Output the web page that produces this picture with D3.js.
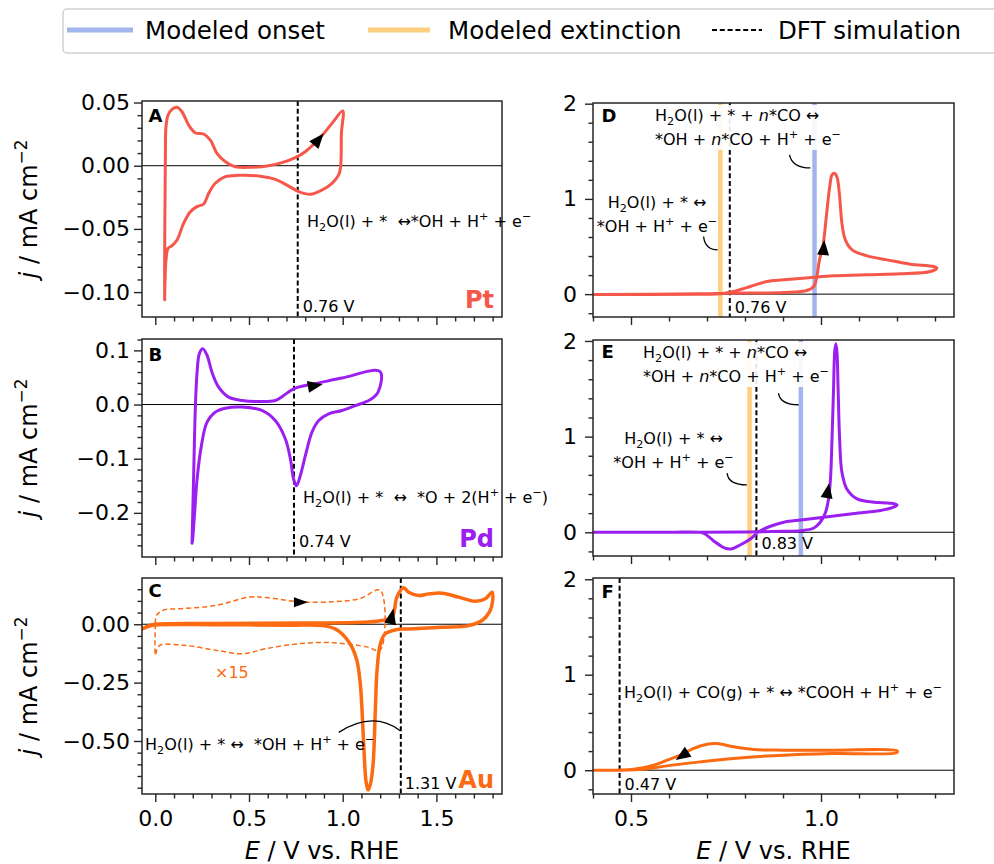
<!DOCTYPE html>
<html><head><meta charset="utf-8">
<script src="https://cdn.jsdelivr.net/npm/d3@7/dist/d3.min.js"></script>
<style>html,body{margin:0;background:#fff}svg{display:block}text{white-space:pre}</style>
</head><body>
<svg id="chart" width="994" height="864" xmlns="http://www.w3.org/2000/svg"></svg>
<script>
// ================= DATA =================
// Panel A: Pt CV (E / V vs RHE, j / mA cm^-2), closed loop
const ptCV_E = [0.050,0.050,0.052,0.054,0.057,0.068,0.089,0.116,0.142,0.178,0.213,0.258,0.294,0.329,0.374,0.427,0.516,0.605,0.676,0.747,0.800,0.872,0.943,1.000,
                0.993,0.989,0.979,0.943,0.890,0.827,0.765,0.712,0.640,0.551,0.445,0.374,0.320,0.285,0.258,0.222,0.187,0.151,0.116,0.089,0.068,0.057,0.052,0.050];
const ptCV_J = [-0.106,-0.0667,-0.027,0.0124,0.0309,0.040,0.0446,0.0462,0.0427,0.0322,0.0261,0.0251,0.0203,0.0098,0.0032,-0.0008,-0.0012,0.000,0.0024,0.0064,0.0111,0.0209,0.0335,0.0433,
                0.0256,-0.0008,-0.0071,-0.0139,-0.0192,-0.0226,-0.0205,-0.0161,-0.0108,-0.0081,-0.0076,-0.0087,-0.0139,-0.0218,-0.0303,-0.0324,-0.0364,-0.0456,-0.0588,-0.0633,-0.0654,-0.0746,-0.0904,-0.106];
// Panel B: Pd CV
const pdCV_E = [0.196,0.205,0.214,0.223,0.235,0.253,0.276,0.302,0.338,0.391,0.463,0.552,0.640,0.685,0.738,0.801,0.872,0.996,1.199,
                1.190,1.146,1.067,0.996,0.925,0.872,0.836,0.801,0.774,0.753,0.738,0.721,0.694,0.640,0.569,0.463,0.374,0.320,0.276,0.246,0.223,0.210,0.199,0.196];
const pdCV_J = [-0.256,-0.125,-0.002,0.060,0.094,0.103,0.091,0.060,0.032,0.0137,0.0075,0.0056,0.0075,0.0167,0.029,0.0352,0.040,0.0489,0.061,
                0.024,0.0087,-0.002,-0.011,-0.0172,-0.0296,-0.051,-0.094,-0.131,-0.150,-0.1376,-0.1006,-0.0635,-0.0296,-0.011,-0.0047,-0.0067,-0.014,-0.0326,-0.0759,-0.1376,-0.199,-0.250,-0.256];
// Panel C: Au CV (solid)
const auCV_E = [-0.07,-0.03,0.0,0.3,0.8,1.1,1.2,1.263,1.289,1.325,1.352,1.405,1.459,1.53,1.619,1.708,1.761,1.797,
                1.800,1.785,1.745,1.672,1.53,1.352,1.281,1.227,1.201,1.183,1.174,1.162,1.148,1.135,1.124,1.112,1.094,1.076,1.05,1.014,0.96,0.89,0.73,0.3,0.0,-0.03,-0.07];
const auCV_J = [-0.02,-0.005,0.0,0.003,0.005,0.008,0.015,0.03,0.116,0.156,0.137,0.123,0.130,0.133,0.116,0.098,0.109,0.137,
                0.100,0.055,0.017,-0.006,-0.013,-0.02,-0.024,-0.041,-0.084,-0.2,-0.37,-0.60,-0.684,-0.71,-0.67,-0.513,-0.256,-0.156,-0.099,-0.056,-0.02,-0.006,-0.004,-0.002,-0.003,-0.008,-0.02];
// Panel C: Au CV magnified x15 (dashed), values as displayed
const auX15_E = [0.0,0.007,0.043,0.15,0.328,0.506,0.594,0.772,0.95,1.093,1.2, 1.2,1.128,0.95,0.772,0.594,0.47,0.328,0.15,0.025,0.007,0.0,0.0];
const auX15_J = [0.003,0.0386,0.06,0.067,0.081,0.117,0.114,0.096,0.096,0.110,0.146, -0.111,-0.097,-0.079,-0.083,-0.104,-0.126,-0.112,-0.090,-0.090,-0.112,-0.133,0.003];
// Panel D: Pt CO stripping
const ptCO_E = [0.4,0.682,0.761,0.902,0.963,0.981,0.989,0.996,1.005,1.014,1.023,1.029,1.035,1.042,1.049,1.055,1.064,1.082,1.121,1.174,1.235,1.297,1.305,
                1.288,1.209,1.121,1.033,0.983,0.902,0.858,0.814,0.77,0.735,0.682,0.4];
const ptCO_J = [-0.005,0.003,0.01,0.017,0.038,0.08,0.185,0.36,0.50,0.815,1.13,1.253,1.27,1.23,1.026,0.746,0.57,0.465,0.402,0.36,0.315,0.29,0.273,
                0.238,0.213,0.204,0.192,0.178,0.15,0.133,0.08,0.028,0.003,0.0,-0.005];
// Panel E: Pd CO stripping
const pdCO_E = [0.4,0.6,0.8,0.9,0.946,0.98,0.998,1.012,1.02,1.025,1.029,1.033,1.036,1.039,1.042,1.045,1.049,1.055,1.068,1.095,1.139,1.182,1.2,
                1.191,1.156,1.077,1.007,0.947,0.902,0.867,0.836,0.814,0.787,0.763,0.744,0.717,0.695,0.682,0.6,0.4];
const pdCO_J = [0.0,0.0,0.003,0.01,0.017,0.042,0.105,0.21,0.35,0.56,0.977,1.50,1.885,1.97,1.885,1.50,0.977,0.628,0.453,0.349,0.314,0.304,0.286,
                0.262,0.227,0.192,0.157,0.129,0.105,0.063,0.006,-0.07,-0.133,-0.175,-0.16,-0.088,-0.018,0.0,0.0,0.0];
// Panel F: Au CO oxidation
const auCO_E = [0.4,0.463,0.533,0.595,0.683,0.77,0.902,1.034,1.2, 1.2,1.034,0.902,0.823,0.77,0.726,0.7,0.665,0.63,0.595,0.56,0.507,0.4];
const auCO_J = [0.0,0.0,0.01,0.0455,0.0875,0.123,0.158,0.175,0.186, 0.203,0.21,0.21,0.217,0.245,0.28,0.273,0.228,0.158,0.105,0.053,0.01,0.0];

// Reference potentials (V vs RHE), panels A..F
const panelLetters = ["A","B","C","D","E","F"];
const dftV = [0.76, 0.74, 1.31, 0.76, 0.83, 0.47];
const dftLabels = ["0.76 V","0.74 V","1.31 V","0.76 V","0.83 V","0.47 V"];
const onsetV = [0.983, 0.947];       // panels D, E
const extinctionV = [0.735, 0.812];  // panels D, E
const metals = ["Pt","Pd","Au"];

// Ticks
const leftXTicks = [0.0, 0.5, 1.0, 1.5];
const rightXTicks = [0.5, 1.0];
const yTicksA = [-0.10, -0.05, 0.00, 0.05];
const yTicksB = [-0.2, -0.1, 0.0, 0.1];
const yTicksC = [-0.50, -0.25, 0.00];
const yTicksRight = [0, 1, 2];
const legendLabels = ["Modeled onset", "Modeled extinction", "DFT simulation"];

// ================= DRAWING =================
const svg = d3.select("#chart");
const FONT = "DejaVu Sans";
const cPt = "#f5574b", cPd = "#9b20f0", cAu = "#fc6a12", cOnset = "#a2b5ee", cExt = "#fdcf7f";
const metalColors = [cPt, cPd, cAu];
const defs = svg.append("defs");

function rich(parent, str, x, y, opt = {}) {
  const size = opt.size || 16;
  const t = parent.append("text").attr("x", x).attr("y", y)
    .attr("font-family", opt.family || FONT).attr("font-size", size)
    .attr("fill", opt.fill || "#000").attr("text-anchor", opt.anchor || "start");
  if (opt.weight) t.attr("font-weight", opt.weight);
  if (opt.transform) t.attr("transform", opt.transform);
  const parts = str.split(/(_\{[^}]*\}|\^\{[^}]*\}|\$[^$]*\$)/).filter(s => s.length);
  let cur = 0;
  parts.forEach(p => {
    let txt = p, shift = 0, fs = size, ital = false;
    if (p.startsWith("_{")) { txt = p.slice(2, -1); shift = 0.22 * size; fs = 0.7 * size; }
    else if (p.startsWith("^{")) { txt = p.slice(2, -1); shift = -0.42 * size; fs = 0.7 * size; }
    else if (p.startsWith("$")) { txt = p.slice(1, -1); ital = true; }
    const ts = t.append("tspan").attr("dy", shift - cur).attr("font-size", fs).text(txt);
    if (ital) ts.attr("font-style", "italic");
    cur = shift;
  });
  return t;
}

const fmt2 = d3.format(".2f"), fmt1 = d3.format(".1f"), fmt0 = d3.format("d");
function minors(lo, hi, step, majors) {
  return d3.range(Math.round(lo / step), Math.round(hi / step) + 1).map(k => +(k * step).toFixed(6))
    .filter(v => v >= lo - 1e-9 && v <= hi + 1e-9 && !majors.some(m => Math.abs(m - v) < 1e-9));
}

function panel(o) {
  const x = d3.scaleLinear().domain(o.xDom).range([o.x0, o.x1]);
  const y = d3.scaleLinear().domain(o.yDom).range([o.y1, o.y0]);
  const g = svg.append("g");
  defs.append("clipPath").attr("id", "clip" + o.id).append("rect")
    .attr("x", o.x0).attr("y", o.y0).attr("width", o.x1 - o.x0).attr("height", o.y1 - o.y0);
  const plot = g.append("g").attr("clip-path", `url(#clip${o.id})`);
  return { x, y, g, plot, o };
}
function finish(P) {
  const { x, y, g, o } = P;
  g.append("rect").attr("x", o.x0).attr("y", o.y0).attr("width", o.x1 - o.x0).attr("height", o.y1 - o.y0)
    .attr("fill", "none").attr("stroke", "#262626").attr("stroke-width", 1.5);
  const axes = [];
  axes.push(g.append("g").attr("transform", `translate(${o.x0},0)`)
    .call(d3.axisLeft(y).tickValues(o.yMajor).tickFormat(o.yFmt).tickSize(8).tickPadding(o.yPad)));
  axes.push(g.append("g").attr("transform", `translate(${o.x0},0)`)
    .call(d3.axisLeft(y).tickValues(o.yMinor).tickFormat(() => "").tickSize(4.5)));
  axes.push(g.append("g").attr("transform", `translate(0,${o.y1})`)
    .call(d3.axisBottom(x).tickValues(o.xMajor).tickFormat(o.showX ? fmt1 : () => "").tickSize(8).tickPadding(8)));
  axes.push(g.append("g").attr("transform", `translate(0,${o.y1})`)
    .call(d3.axisBottom(x).tickValues(o.xMinor).tickFormat(() => "").tickSize(4.5)));
  axes.forEach(a => {
    a.select(".domain").remove();
    a.attr("font-family", FONT).attr("font-size", 22);
    a.selectAll("line").attr("stroke", "#262626").attr("stroke-width", 1.4);
    a.selectAll("text").attr("fill", "#000");
  });
}

const line = (P) => d3.line().x(d => P.x(d[0])).y(d => P.y(d[1])).curve(d3.curveCatmullRom.alpha(0.5));
function curve(P, E, J, color, w, dash) {
  const p = P.plot.append("path").datum(d3.zip(E, J)).attr("d", line(P))
    .attr("fill", "none").attr("stroke", color).attr("stroke-width", w)
    .attr("stroke-linejoin", "round").attr("stroke-linecap", "round");
  if (dash) p.attr("stroke-dasharray", dash).attr("stroke-linecap", "butt");
}
function zeroLine(P) {
  P.plot.append("line").attr("x1", P.o.x0).attr("x2", P.o.x1).attr("y1", P.y(0)).attr("y2", P.y(0))
    .attr("stroke", "#000").attr("stroke-width", 1);
}
function vline(P, v, color, w, dash) {
  const l = P.plot.append("line").attr("x1", P.x(v)).attr("x2", P.x(v)).attr("y1", P.o.y0).attr("y2", P.o.y1)
    .attr("stroke", color).attr("stroke-width", w);
  if (dash) l.attr("stroke-dasharray", dash);
}
function arrowHead(P, E, J, E2, J2, L = 15, W = 12) {
  const px = P.x(E), py = P.y(J);
  const ang = Math.atan2(P.y(J2) - py, P.x(E2) - px) * 180 / Math.PI;
  P.g.append("path").attr("d", `M${L / 2},0 L${-L / 2},${-W / 2} L${-L / 2},${W / 2} Z`)
    .attr("transform", `translate(${px},${py}) rotate(${ang})`).attr("fill", "#000");
}
function connector(P, a, c, b) {
  P.g.append("path")
    .attr("d", `M${P.x(a[0])},${P.y(a[1])} Q${P.x(c[0])},${P.y(c[1])} ${P.x(b[0])},${P.y(b[1])}`)
    .attr("fill", "none").attr("stroke", "#000").attr("stroke-width", 1.3);
}
function boxedLines(P, lines, x, y0, dy, opt = {}) {
  const grp = P.g.append("g");
  lines.forEach((s, i) => rich(grp, s, x, y0 + i * dy, opt));
  if (opt.box) {
    let bb = grp.node().getBBox();
    grp.insert("rect", ":first-child").attr("x", bb.x - 2).attr("y", bb.y - 1)
      .attr("width", bb.width + 4).attr("height", bb.height + 2).attr("fill", "#fff").attr("opacity", 0.9);
  }
  return grp;
}

// ---- Layout ----
const LX = [-0.071, 1.85], RX = [0.4, 1.35];
const leftMinorX = minors(-0.07, 1.85, 0.1, leftXTicks);
const rightMinorX = minors(0.4, 1.35, 0.1, rightXTicks);
const cfg = [
  { id: "A", x0: 142, x1: 502, y0: 101, y1: 317, xDom: LX, yDom: [-0.1197, 0.0512], yMajor: yTicksA, yMinor: minors(-0.11, 0.05, 0.01, yTicksA), yFmt: fmt2, yPad: 4, xMajor: leftXTicks, xMinor: leftMinorX, showX: false },
  { id: "B", x0: 142, x1: 502, y0: 339, y1: 557, xDom: LX, yDom: [-0.2815, 0.121], yMajor: yTicksB, yMinor: minors(-0.26, 0.12, 0.02, yTicksB), yFmt: fmt1, yPad: 4, xMajor: leftXTicks, xMinor: leftMinorX, showX: false },
  { id: "C", x0: 142, x1: 502, y0: 578, y1: 794, xDom: LX, yDom: [-0.727, 0.198], yMajor: yTicksC, yMinor: minors(-0.70, 0.15, 0.05, yTicksC), yFmt: fmt2, yPad: 4, xMajor: leftXTicks, xMinor: leftMinorX, showX: true },
  { id: "D", x0: 593, x1: 954, y0: 103, y1: 317, xDom: RX, yDom: [-0.24, 2.007], yMajor: yTicksRight, yMinor: minors(-0.2, 2.0, 0.2, yTicksRight), yFmt: fmt0, yPad: 8, xMajor: rightXTicks, xMinor: rightMinorX, showX: false },
  { id: "E", x0: 593, x1: 954, y0: 340, y1: 556, xDom: RX, yDom: [-0.248, 2.01], yMajor: yTicksRight, yMinor: minors(-0.2, 2.0, 0.2, yTicksRight), yFmt: fmt0, yPad: 8, xMajor: rightXTicks, xMinor: rightMinorX, showX: false },
  { id: "F", x0: 593, x1: 954, y0: 578, y1: 794, xDom: RX, yDom: [-0.249, 2.013], yMajor: yTicksRight, yMinor: minors(-0.2, 2.0, 0.2, yTicksRight), yFmt: fmt0, yPad: 8, xMajor: rightXTicks, xMinor: rightMinorX, showX: true },
];
const P = cfg.map(panel);
const [PA, PB, PC, PD, PE, PF] = P;

// background reference lines
[PD, PE].forEach((p, i) => {
  vline(p, extinctionV[i], cExt, 4.5);
  vline(p, onsetV[i], cOnset, 4.5);
});
P.forEach((p, i) => { zeroLine(p); vline(p, dftV[i], "#000", 2, "5,2.8"); });

// curves
curve(PA, ptCV_E, ptCV_J, cPt, 3);
curve(PB, pdCV_E, pdCV_J, cPd, 3);
curve(PC, auX15_E, auX15_J, cAu, 1.5, "5,3");
curve(PC, auCV_E, auCV_J, cAu, 3.5);
curve(PD, ptCO_E, ptCO_J, cPt, 3);
curve(PE, pdCO_E, pdCO_J, cPd, 3);
curve(PF, auCO_E, auCO_J, cAu, 3);

P.forEach(finish);

// arrows (placed on the curves, in data units)
arrowHead(PA, 0.872, 0.0209, 0.943, 0.0335);
arrowHead(PB, 0.854, 0.035, 0.95, 0.041);
arrowHead(PC, 1.262, 0.035, 1.285, 0.12, 16, 12);
arrowHead(PC, 0.777, 0.094, 0.9, 0.094, 14, 10);
arrowHead(PD, 1.007, 0.49, 1.014, 0.815);
arrowHead(PE, 1.018, 0.436, 1.025, 0.60);
arrowHead(PF, 0.634, 0.15, 0.60, 0.06);

// panel letters
const letterPos = [[148.5, 122], [148.5, 361], [148.5, 597], [601.5, 122], [601.5, 358], [601.5, 598]];
P.forEach((p, i) => rich(p.g, panelLetters[i], letterPos[i][0], letterPos[i][1], { size: 18, weight: "bold" }));

// DFT potential labels
const dftLabelY = [312, 547, 789, 313, 549, 790];
P.forEach((p, i) => rich(p.g, dftLabels[i], p.x(dftV[i]) + (i === 2 ? 4 : 5), dftLabelY[i], { size: 16 }));

// metal labels
const metalY = [308, 547, 788];
[PA, PB, PC].forEach((p, i) => rich(p.g, metals[i], 494, metalY[i], { size: 24, weight: "bold", anchor: "end", fill: metalColors[i] }));

// reaction annotations
rich(PA.g, "H_{2}O(l) + *  ↔*OH + H^{+} + e^{−}", 307, 227);
rich(PB.g, "H_{2}O(l) + *  ↔  *O + 2(H^{+} + e^{−})", 303, 503);
rich(PC.g, "H_{2}O(l) + * ↔  *OH + H^{+} + e^{−}", 145, 750);
connector(PC, [0.979, -0.463], [1.162, -0.369], [1.307, -0.456]);
rich(PC.g, "×15", 215, 678, { size: 16, fill: cAu });

boxedLines(PD, ["H_{2}O(l) + * + $n$*CO ↔", "*OH + $n$*CO + H^{+} + e^{−}"], 655, 121, 24, { box: true });
boxedLines(PD, ["H_{2}O(l) + * ↔", "*OH + H^{+} + e^{−}"], 657, 208, 24, { anchor: "middle" });
connector(PD, [0.917, 1.463], [0.925, 1.325], [0.972, 1.325]);
connector(PD, [0.691, 0.605], [0.695, 0.465], [0.728, 0.465]);

boxedLines(PE, ["H_{2}O(l) + * + $n$*CO ↔", "*OH + $n$*CO + H^{+} + e^{−}"], 643, 358, 24, { box: true });
boxedLines(PE, ["H_{2}O(l) + * ↔", "*OH + H^{+} + e^{−}"], 673.5, 444, 24, { anchor: "middle" });
connector(PE, [0.888, 1.455], [0.893, 1.333], [0.941, 1.333]);
connector(PE, [0.753, 0.618], [0.756, 0.495], [0.805, 0.495]);

rich(PF.g, "H_{2}O(l) + CO(g) + * ↔ *COOH + H^{+} + e^{−}", 624, 698);

// axis titles
[PA, PB, PC].forEach(p => {
  const cy = (p.o.y0 + p.o.y1) / 2;
  rich(svg, "$j$ / mA cm^{−2}", 0, 0, { size: 24, anchor: "middle", transform: `translate(37,${cy}) rotate(-90)` });
});
rich(svg, "$E$ / V vs. RHE", (PC.o.x0 + PC.o.x1) / 2, 859, { size: 24, anchor: "middle" });
rich(svg, "$E$ / V vs. RHE", (PF.o.x0 + PF.o.x1) / 2, 859, { size: 24, anchor: "middle" });

// legend
const lg = svg.append("g");
lg.append("rect").attr("x", 63).attr("y", 9).attr("width", 945).attr("height", 44).attr("rx", 4)
  .attr("fill", "#fff").attr("stroke", "#d0d0d0").attr("stroke-width", 1.5);
const legSw = [[67, 133], [368, 430], [712, 762]];
const legTx = [145, 448, 778];
const legStyle = [[cOnset, 5, null], [cExt, 5, null], ["#000", 2, "5,2.8"]];
legendLabels.forEach((lab, i) => {
  const l = lg.append("line").attr("x1", legSw[i][0]).attr("x2", legSw[i][1]).attr("y1", 30).attr("y2", 30)
    .attr("stroke", legStyle[i][0]).attr("stroke-width", legStyle[i][1]);
  if (legStyle[i][2]) l.attr("stroke-dasharray", legStyle[i][2]);
  rich(lg, lab, legTx[i], 38.5, { size: 24.5 });
});
</script>
</body></html>
